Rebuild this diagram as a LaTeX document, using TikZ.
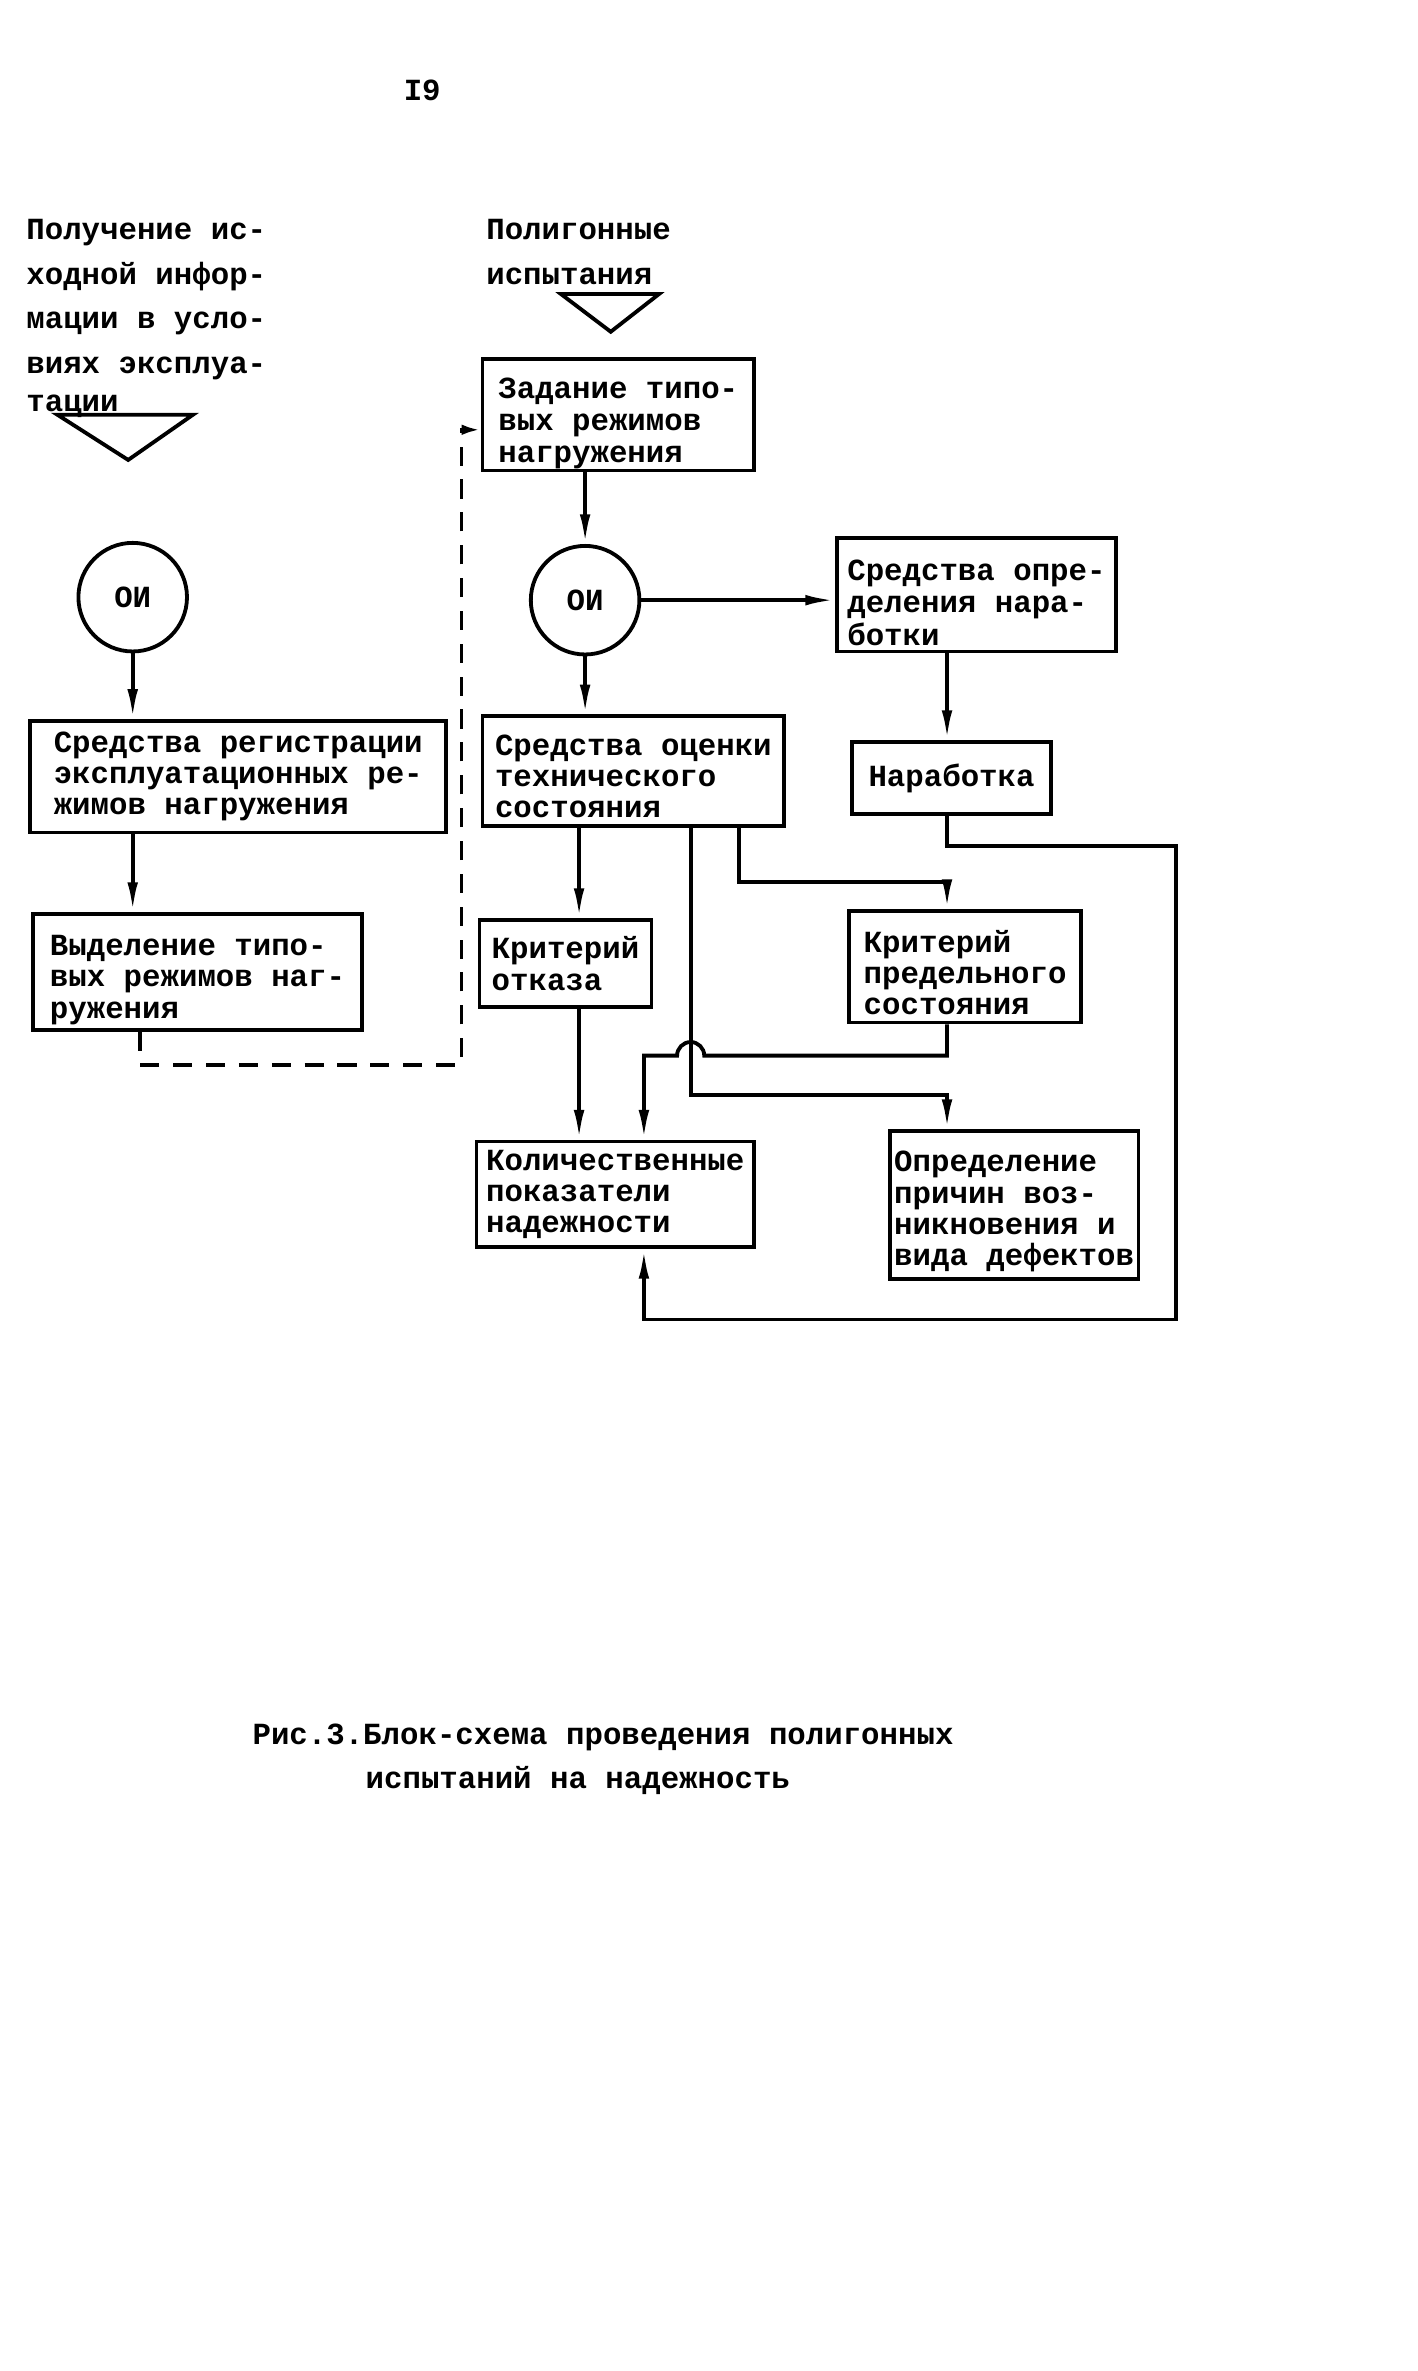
\documentclass[tikz,border=0pt]{standalone}
\usepackage{fontspec}
\setmainfont{Liberation Mono}
\usetikzlibrary{arrows.meta}
\newcommand\tshift[1]{\rule{0pt}{#1}}
\begin{document}
\begin{tikzpicture}[x=0.5mm,y=-0.5mm,
  txt/.style={font=\fontsize{29}{29.5}\selectfont\bfseries},
  box/.style={txt, draw, line width=3.6pt, rectangle, align=left, inner sep=0pt},
  oi/.style={txt, draw, circle, line width=3.6pt, minimum size=36mm, inner sep=0pt},
  ln/.style={line width=3.6pt},
  arr/.style={ln, -{Latex[length=28pt,width=10pt]}},
  dsh/.style={ln, dash pattern=on 18pt off 13pt, -{Latex[length=18pt,width=10pt]}},
]
\useasboundingbox (0,0) rectangle (939.66,1572.28);

% headings
\node[txt] (pg) at (280,60) {I9};
\node[txt, anchor=north west, align=left, font=\fontsize{29}{42}\selectfont\bfseries] (lt) at (15,143)
  {Получение ис-\\ходной инфор-\\мации в усло-\\виях эксплуа-\\[-6pt]тации};
\node[txt, anchor=north west, align=left, font=\fontsize{29}{42}\selectfont\bfseries] (rt) at (320,143)
  {Полигонные\\испытания};

% triangles
\draw[ln, line join=miter] (38,275) -- (128,275) -- (85,305) -- cycle;
\draw[ln, line join=miter] (372,195) -- (437,195) -- (405,220) -- cycle;

% left column
\node[oi] (oiL) at (88,396) {ОИ};
\node[box, minimum width=138mm, minimum height=37mm] (sreg) at (158,515)
  {Средства регистрации\\эксплуатационных ре-\\жимов нагружения};
\node[box, minimum width=109mm, minimum height=38.5mm] (vyd) at (131,644.5)
  {\tshift{34pt}Выделение типо-\\вых режимов наг-\\ружения};

% right part
\node[box, minimum width=90mm, minimum height=37mm] (zad) at (410,275)
  {\tshift{36pt}Задание типо-\\[1pt]вых режимов\\[1pt]нагружения};
\node[oi] (oiR) at (388,398) {ОИ};
\node[box, minimum width=92.5mm, minimum height=37.5mm] (sopr) at (647.5,394.5)
  {\tshift{34pt}Средства опре-\\[1pt]деления нара-\\[1pt]ботки};
\node[box, minimum width=100mm, minimum height=36.5mm] (ocen) at (420,511.5)
  {\tshift{29pt}Средства оценки\\технического\\состояния};
\node[box, minimum width=66mm, minimum height=24mm] (nar) at (631,516) {Наработка};
\node[box, minimum width=57mm, minimum height=29mm] (krot) at (375,639)
  {Критерий\\отказа};
\node[box, minimum width=77mm, minimum height=37mm] (krpr) at (640,641)
  {\tshift{32pt}Критерий\\предельного\\состояния};
\node[box, minimum width=92mm, minimum height=35mm] (kol) at (408,792)
  {Количественные\\показатели\\надежности};
\node[box, minimum width=82.5mm, minimum height=49mm] (opr) at (672.5,799)
  {\tshift{32pt}Определение\\причин воз-\\никновения и\\вида дефектов};

% caption
\node[txt, anchor=west] (cap1) at (165,1152) {Рис.3.Блок-схема проведения полигонных};
\node[txt, anchor=west] (cap2) at (240,1181) {испытаний на надежность};

% helper coordinates
\coordinate (colM) at (384,0);
\coordinate (colK) at (427,0);
\coordinate (colR) at (628,0);
\coordinate (b1) at (490,585);
\coordinate (b2) at (458,726);
\coordinate (hopR) at (467,700);
\coordinate (dc) at (306,285);
\coordinate (lc) at (93,706);
\coordinate (rc) at (780,875);

% connectors
\draw[arr] (oiL.south) -- (oiL.south |- sreg.north);
\draw[arr] (oiL |- sreg.south) -- (oiL |- vyd.north);
\draw[dsh] (lc |- vyd.south) -- (lc) -| (dc) -- (dc -| zad.west);
\draw[arr] (zad.south -| oiR) -- (oiR.north);
\draw[arr] (oiR.east) -- (oiR.east -| sopr.west);
\draw[arr] (oiR.south) -- (oiR.south |- ocen.north);
\draw[arr] (colR |- sopr.south) -- (colR |- nar.north);
\draw[arr] (colR |- nar.south) -- ++(0,20) -| (rc) -| (colK |- kol.south);
\draw[arr] (colM |- ocen.south) -- (colM |- krot.north);
\draw[arr] (colM |- krot.south) -- (colM |- kol.north);
\draw[arr] (b1 |- ocen.south) -- (b1) -| (colR |- krpr.north);
\draw[arr] (b2 |- ocen.south) -- (b2) -| (colR |- opr.north);
\draw[arr] (colR |- krpr.south) -- (colR |- hopR) -- (hopR)
  arc[start angle=0, end angle=180, radius=4.5mm] -| (colK |- kol.north);
\end{tikzpicture}
\end{document}
